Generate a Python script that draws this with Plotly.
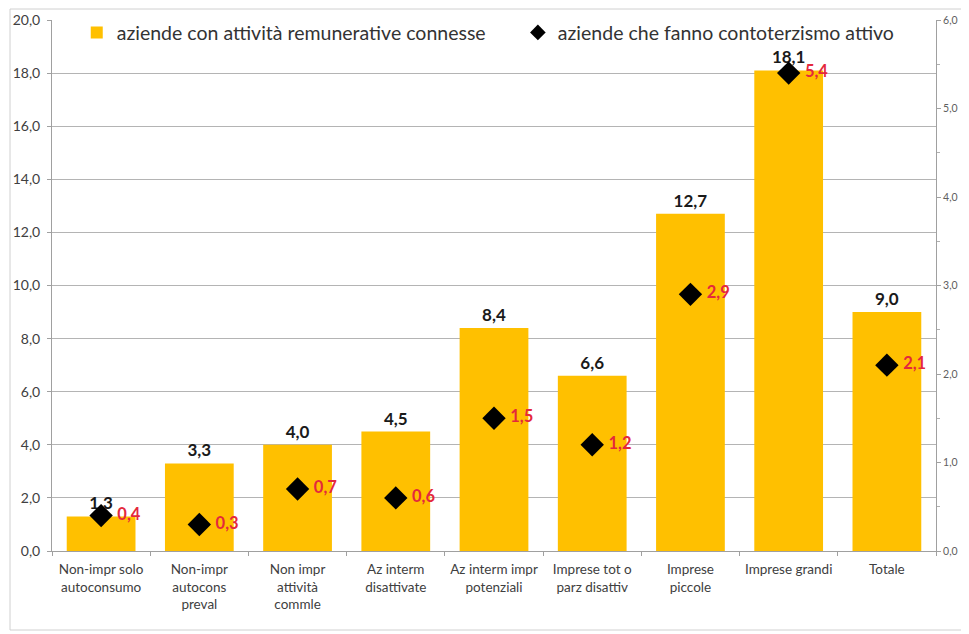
import plotly.graph_objects as go

categories = [
    "Non-impr solo<br>autoconsumo",
    "Non-impr<br>autocons<br>preval",
    "Non impr<br>attività<br>commle",
    "Az interm<br>disattivate",
    "Az interm impr<br>potenziali",
    "Imprese tot o<br>parz disattiv",
    "Imprese<br>piccole",
    "Imprese grandi",
    "Totale",
]
remunerative = [1.3, 3.3, 4.0, 4.5, 8.4, 6.6, 12.7, 18.1, 9.0]
contoterzismo = [0.4, 0.3, 0.7, 0.6, 1.5, 1.2, 2.9, 5.4, 2.1]

FONT = "Lato"
fig = go.Figure()
fig.add_trace(go.Bar(
    x=categories, y=remunerative,
    name="aziende con attività remunerative connesse",
    legend="legend",
    marker=dict(color="#FFC000", line=dict(width=0)),
    width=0.7,
    texttemplate="%{y:.1f}", textposition="outside",
    textfont=dict(family=FONT, size=17, color="#1a1a1a", weight="bold"),
    cliponaxis=False,
))
fig.add_trace(go.Scatter(
    x=categories, y=contoterzismo, yaxis="y2",
    name="aziende che fanno contoterzismo attivo",
    legend="legend2",
    mode="markers+text",
    marker=dict(symbol="diamond", size=18, color="black"),
    texttemplate="\u00a0%{y:.1f}", textposition="middle right",
    textfont=dict(family=FONT, size=16.5, color="#e4283c", weight="bold"),
    cliponaxis=False,
))

legend_common = dict(orientation="h", yanchor="middle",
                     font=dict(family=FONT, size=19.5, color="#333333"),
                     bgcolor="rgba(0,0,0,0)", itemsizing="constant")

# the page body adds an 8px offset, so the figure is sized/margined to compensate
fig.update_layout(
    width=961, height=626,
    margin=dict(l=44, r=33, t=12, b=83, autoexpand=False),
    paper_bgcolor="white", plot_bgcolor="white",
    separators=",.",
    font=dict(family=FONT, color="#404040"),
    showlegend=True,
    legend=dict(x=0.028, xanchor="left", y=0.976, **legend_common),
    legend2=dict(x=0.527, xanchor="left", y=0.976, **legend_common),
    xaxis=dict(range=[-0.5, len(categories) - 0.5], autorange=False,
               showline=True, linecolor="#a0a0a0", linewidth=1, automargin=False,
               ticks="outside", ticklen=4, tickcolor="#a0a0a0", tickson="boundaries",
               ticklabelstandoff=6, tickangle=0,
               tickfont=dict(family=FONT, size=13.5, color="#404040"), showgrid=False),
    yaxis=dict(range=[0, 20], dtick=2, tickformat=".1f", automargin=False,
               showgrid=True, gridcolor="#b4b4b4", gridwidth=1,
               showline=True, linecolor="#a0a0a0", linewidth=1,
               ticks="outside", ticklen=4, tickcolor="#a0a0a0",
               ticklabelstandoff=4,
               tickfont=dict(family=FONT, size=14, color="#404040"),
               zeroline=False),
    yaxis2=dict(range=[0, 6], dtick=1, tickformat=".1f", overlaying="y", side="right",
                automargin=False,
                showgrid=False, showline=True, linecolor="#a0a0a0", linewidth=1,
                ticks="outside", ticklen=4, tickcolor="#a0a0a0",
                minor=dict(ticks="outside", ticklen=3, tickcolor="#b0b0b0", dtick=0.5),
                tickfont=dict(family=FONT, size=10.5, color="#606060"),
                zeroline=False),
)
# outer chart border
fig.add_shape(type="rect", xref="paper", yref="paper",
              x0=-42/884, x1=1 + 27/884, y0=-79/531, y1=1 + 11/531,
              line=dict(color="#d0d0d0", width=1), layer="below")

fig.write_html("out.html")
